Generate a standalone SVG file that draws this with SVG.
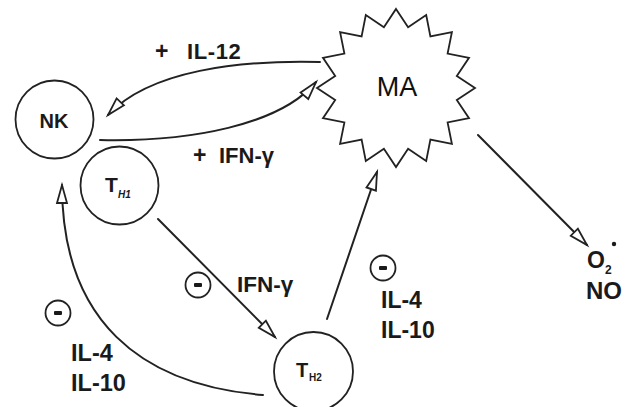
<svg xmlns="http://www.w3.org/2000/svg" width="626" height="407" viewBox="0 0 626 407">
<defs>
<style>
.ln{fill:none;stroke:#222;stroke-width:2;stroke-linecap:round}
.cell{fill:#fff;stroke:#222;stroke-width:1.8}
.t{font-family:"Liberation Sans",Arial,sans-serif;font-weight:bold;fill:#1a1a1a}
.minus circle{fill:none;stroke:#222;stroke-width:1.8}
.minus rect{fill:#1a1a1a}
</style>
<marker id="oa" viewBox="0 0 18 10" refX="18" refY="5" markerWidth="18" markerHeight="10" markerUnits="userSpaceOnUse" orient="auto" overflow="visible">
<path d="M0,0 L18,5 L0,10 Z" fill="#fff" stroke="#222" stroke-width="1.8" stroke-linejoin="miter"/>
</marker>
</defs>
<rect width="626" height="407" fill="#fff"/>
<g id="connectors">
<path class="ln" d="M320,62 C240,60 150,70 108,115" marker-end="url(#oa)"/>
<path class="ln" d="M100,140 C190,142 280,125 316,82" marker-end="url(#oa)"/>
<path class="ln" d="M158,219 L275,337" marker-end="url(#oa)"/>
<path class="ln" d="M327,319 L377,172" marker-end="url(#oa)"/>
<path class="ln" d="M478,135 L587,245" marker-end="url(#oa)"/>
<path class="ln" d="M263,395 C140,385 62,320 62,185" marker-end="url(#oa)"/>
</g>
<g id="MA">
<polygon class="cell" points="396,9 408.1,27.2 426.2,15 430.4,36.4 451.9,32.1 447.6,53.6 469,57.8 456.8,75.9 475,88 456.8,100.1 469,118.2 447.6,122.4 451.9,143.9 430.4,139.6 426.2,161 408.1,148.8 396,167 383.9,148.8 365.8,161 361.6,139.6 340.1,143.9 344.4,122.4 323,118.2 335.2,100.1 317,88 335.2,75.9 323,57.8 344.4,53.6 340.1,32.1 361.6,36.4 365.8,15 383.9,27.2"/>
<text x="397" y="96" text-anchor="middle" font-family="Liberation Sans,Arial,sans-serif" font-size="27" fill="#111">MA</text>
</g>
<g id="NK">
<circle class="cell" cx="54.5" cy="119.5" r="39"/>
<text class="t" x="54" y="128" text-anchor="middle" font-size="20">NK</text>
</g>
<g id="TH1">
<circle class="cell" cx="119.5" cy="185.5" r="39"/>
<text class="t" x="105" y="192" font-size="21">T</text>
<text class="t" x="118" y="198" font-size="10" font-style="italic">H1</text>
</g>
<g id="TH2">
<circle class="cell" cx="313.5" cy="371.5" r="39.5"/>
<text class="t" x="296" y="377" font-size="20">T</text>
<text class="t" x="309" y="381" font-size="10">H2</text>
</g>
<g id="products">
<text class="t" x="587" y="268" font-size="23">O</text>
<text class="t" x="605" y="274" font-size="12">2</text>
<circle cx="614" cy="244" r="2.2" fill="#1a1a1a"/>
<text class="t" x="586" y="299" font-size="24">NO</text>
</g>
<g id="labels">
<text class="t" x="155" y="59" font-size="23">+</text>
<text class="t" x="187" y="59" font-size="22" letter-spacing="0.6">IL-12</text>
<text class="t" x="193" y="163" font-size="23">+</text>
<text class="t" x="219" y="163" font-size="22">IFN-γ</text>
<text class="t" x="237" y="292" font-size="22.5">IFN-γ</text>
<text class="t" x="71" y="361" font-size="23.5">IL-4</text>
<text class="t" x="71" y="391" font-size="23.5">IL-10</text>
<text class="t" x="381" y="308" font-size="23">IL-4</text>
<text class="t" x="381" y="338" font-size="23">IL-10</text>
</g>
<g id="minus-signs" class="minus">
<g><circle cx="198" cy="285" r="12.5"/><rect x="194" y="283" width="8" height="4" rx="1"/></g>
<g><circle cx="58" cy="313" r="12.5"/><rect x="54" y="311" width="8" height="4" rx="1"/></g>
<g><circle cx="383" cy="268" r="12.5"/><rect x="379" y="266" width="8" height="4" rx="1"/></g>
</g>
</svg>
